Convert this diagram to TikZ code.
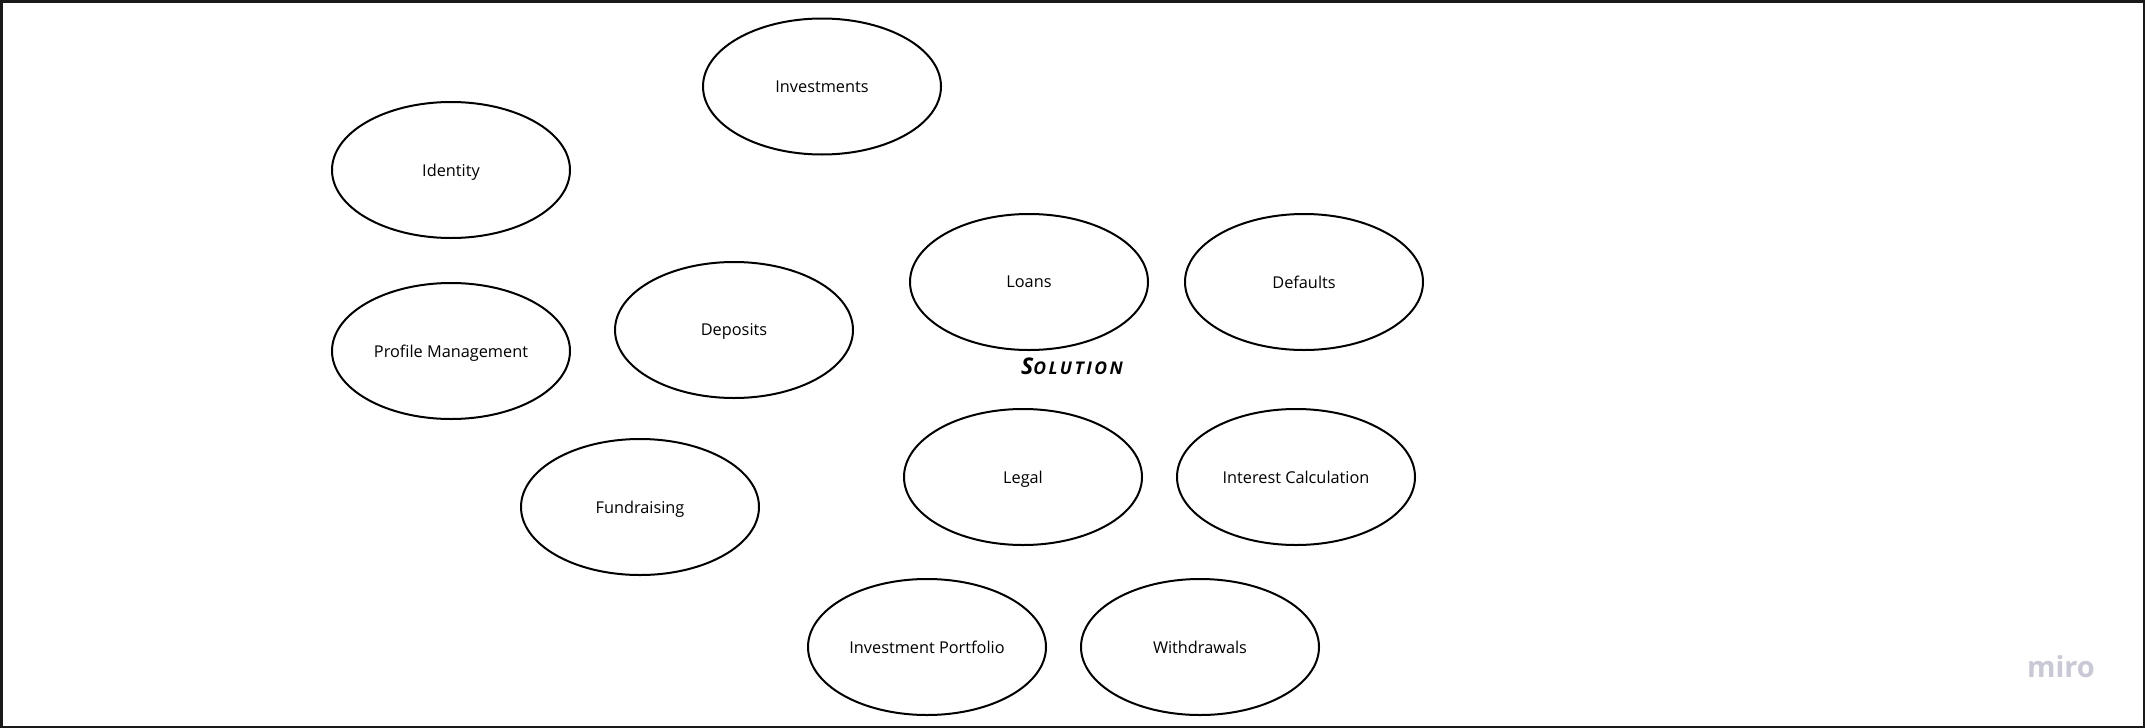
\documentclass[tikz,border=0pt]{standalone}
\usepackage{fontspec}
\setmainfont{Open Sans}
\usetikzlibrary{shapes.geometric}
\definecolor{mirogray}{RGB}{200,200,214}
\definecolor{framecol}{RGB}{25,25,25}
\begin{document}
\begin{tikzpicture}[x=1pt,y=-1pt,
  bubble/.style={draw=black, line width=2pt, ellipse, minimum width=238pt,
    minimum height=136pt, inner sep=0pt, text depth=0pt, font=\fontsize{16.3}{20}\selectfont}]
\useasboundingbox (0,0) rectangle (2145,728);
\fill[white] (0,0) rectangle (2145,728);
\draw[line width=2.5pt, draw=framecol] (1.25,1.25) rectangle (2143.75,726.75);

\node[bubble] (investments) at (822,86.5) {Investments};
\node[bubble] (identity) at (451,170) {Identity};
\node[bubble] (profile) at (451,351) {Profile Management};
\node[bubble] (deposits) at (734,330) {Deposits};
\node[bubble] (loans) at (1029,282) {Loans};
\node[bubble] (defaults) at (1304,282) {Defaults};
\node[bubble] (legal) at (1023,477) {Legal};
\node[bubble] (interest) at (1296,477) {Interest Calculation};
\node[bubble] (fundraising) at (640,507) {Fundraising};
\node[bubble] (portfolio) at (927,647) {Investment Portfolio};
\node[bubble] (withdrawals) at (1200,647) {Withdrawals};

\node[inner sep=0pt] (solution) at (1072,366)
  {\bfseries\itshape\addfontfeature{LetterSpace=14}{\fontsize{23}{24}\selectfont S}{\fontsize{17.5}{20}\selectfont OLUTION}};

\node[inner sep=0pt, text=mirogray] (miro) at (2061,667)
  {\fontsize{29}{32}\selectfont\bfseries miro};
\end{tikzpicture}
\end{document}
